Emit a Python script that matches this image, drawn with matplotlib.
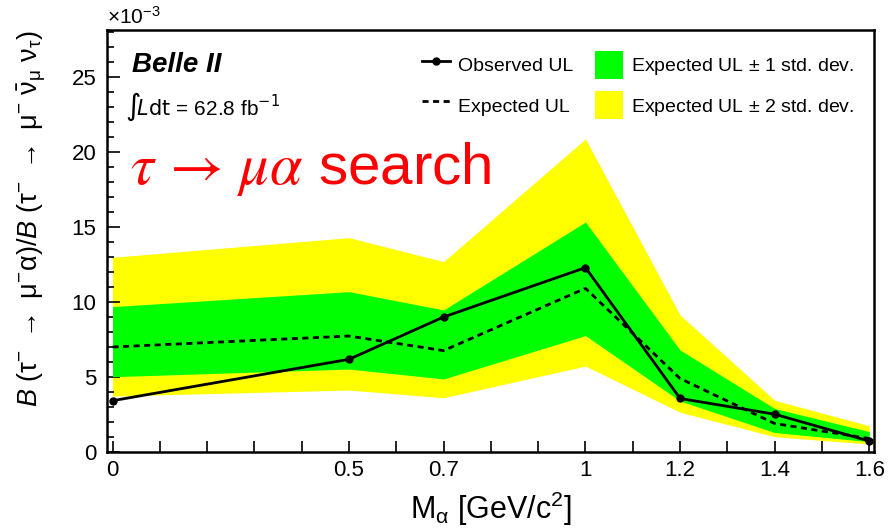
import matplotlib
matplotlib.use("Agg")
import matplotlib.pyplot as plt
from matplotlib.lines import Line2D
from matplotlib.patches import Patch
from matplotlib.ticker import MultipleLocator

plt.rcParams['font.family'] = ['Liberation Sans', 'DejaVu Sans']
plt.rcParams['mathtext.fontset'] = 'custom'
plt.rcParams['mathtext.rm'] = 'Liberation Sans'
plt.rcParams['mathtext.it'] = 'Liberation Sans:italic'
plt.rcParams['mathtext.bf'] = 'Liberation Sans:bold'

# Data (in units of 1e-3)
mass = [0.0, 0.5, 0.7, 1.0, 1.2, 1.4, 1.6]
observed = [3.42, 6.18, 9.0, 12.29, 3.57, 2.52, 0.73]
expected = [7.0, 7.73, 6.76, 10.91, 4.9, 1.9, 0.9]
sig1_lo = [5.02, 5.53, 4.87, 7.76, 3.4, 1.3, 0.69]
sig1_hi = [9.69, 10.69, 9.47, 15.33, 6.8, 2.9, 1.36]
sig2_lo = [3.73, 4.13, 3.62, 5.73, 2.65, 1.02, 0.53]
sig2_hi = [12.98, 14.29, 12.69, 20.87, 9.13, 3.45, 1.75]
xtick_labels = {0.0: "0", 0.5: "0.5", 0.7: "0.7", 1.0: "1", 1.2: "1.2", 1.4: "1.4", 1.6: "1.6"}

fig = plt.figure(figsize=(8.95, 5.28), dpi=100)
ax = fig.add_axes([0.1201, 0.1439, 0.8559, 0.7993])

yellow = '#ffff00'
green = '#00ff00'
ax.fill_between(mass, sig2_lo, sig2_hi, color=yellow, lw=0, zorder=1)
ax.fill_between(mass, sig1_lo, sig1_hi, color=green, lw=0, zorder=2)
ax.plot(mass, expected, color='black', lw=2, ls=(0, (2.2, 1.6)), zorder=3)
ax.plot(mass, observed, color='black', lw=2, marker='o', ms=5, zorder=4)

ax.set_xlim(-0.0106, 1.609)
ax.set_ylim(0, 28.13)

xt = [round(0.1 * i, 1) for i in range(17)]
ax.set_xticks(xt)
ax.set_xticklabels([xtick_labels.get(v, "") for v in xt])
ax.set_yticks([0, 5, 10, 15, 20, 25])
ax.yaxis.set_minor_locator(MultipleLocator(1))
ax.tick_params(axis='x', which='major', direction='in', length=8, width=1.2,
               labelsize=16, pad=6)
ax.tick_params(axis='y', which='major', direction='in', length=9, width=1.2,
               labelsize=16, pad=8)
ax.tick_params(axis='y', which='minor', direction='in', length=5, width=1.2)
for s in ax.spines.values():
    s.set_linewidth(1.8)

ax.set_xlabel(r'M$_{\mathrm{\alpha}}$ [GeV/c$^{2}$]', fontsize=22, labelpad=6)
ax.set_ylabel(r'$\mathit{B}\ (\mathrm{\tau}^{-}\ \rightarrow\ \mathrm{\mu}^{-}\mathrm{\alpha})/\mathit{B}\ (\mathrm{\tau}^{-}\ \rightarrow\ \mathrm{\mu}^{-}\ \bar{\mathrm{\nu}}_{\mathrm{\mu}}\ \mathrm{\nu}_{\mathrm{\tau}})$',
              fontsize=19.5, loc='top')
ax.yaxis.set_label_coords(-0.078, 1.0)

ax.text(0.0, 1.005, r'$\times$10$^{-3}$', transform=ax.transAxes, fontsize=15,
        ha='left', va='bottom')

ax.text(0.032, 0.900, 'Belle II', transform=ax.transAxes, fontsize=20,
        fontweight='bold', fontstyle='italic', ha='left', va='baseline')
ax.text(0.023, 0.800, r'$\int\!\mathit{L}\mathrm{dt}$ = 62.8 fb$^{-1}$', transform=ax.transAxes,
        fontsize=15, ha='left', va='baseline', math_fontfamily='dejavusans')
ax.text(0.029, 0.635, r'$\tau\,\rightarrow\,\mu\alpha$ search', transform=ax.transAxes,
        fontsize=42, color='#ff0000', ha='left', va='baseline', math_fontfamily='stix')

handles = [Line2D([], [], color='black', lw=2, marker='o', ms=5),
           Line2D([], [], color='black', lw=2, ls=(0, (2.2, 1.6))),
           Patch(facecolor=green, edgecolor='none'),
           Patch(facecolor=yellow, edgecolor='none')]
labels = ['Observed UL', 'Expected UL', r'Expected UL $\pm$ 1 std. dev.',
          r'Expected UL $\pm$ 2 std. dev.']
ax.legend(handles, labels, ncol=2, loc='upper left',
          bbox_to_anchor=(0.4106, 0.950), frameon=False, fontsize=14,
          borderpad=0, borderaxespad=0, handlelength=1.45, handleheight=1.85,
          handletextpad=0.4, columnspacing=1.1, labelspacing=0.62)

fig.savefig('out.png', dpi=100)
